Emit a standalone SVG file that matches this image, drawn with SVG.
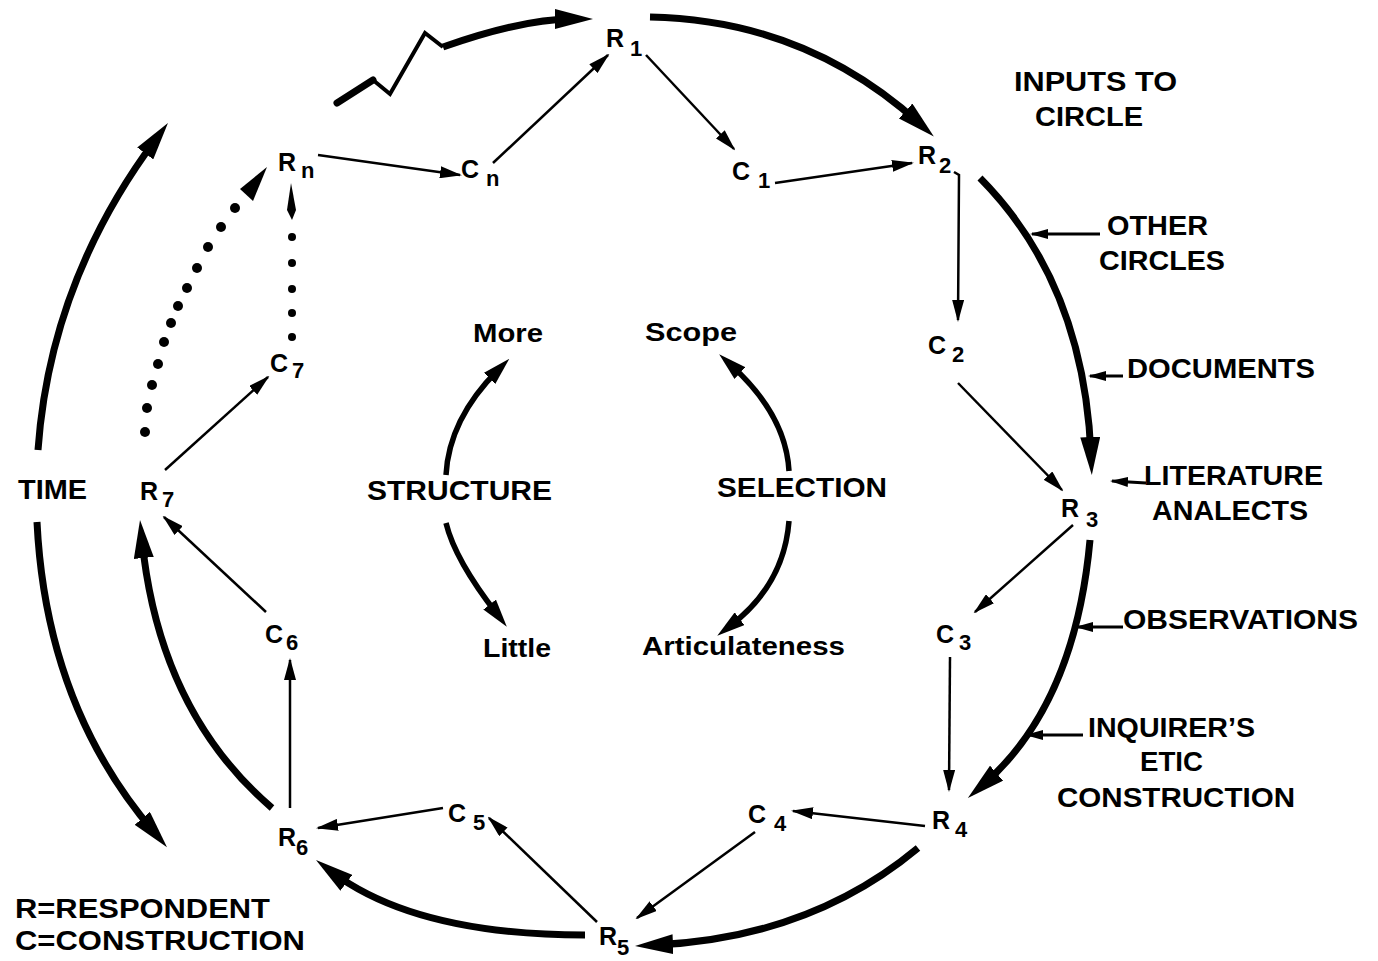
<svg xmlns="http://www.w3.org/2000/svg" width="1378" height="961" viewBox="0 0 1378 961">
<style>
text{font-family:"Liberation Sans",Arial,sans-serif;fill:#000}
.n{font-size:25px;font-weight:bold}
.s{font-size:22px;font-weight:bold}
.lb{font-size:27px;font-weight:bold}
.md{font-size:26px;font-weight:bold}
.thin{fill:none;stroke:#000;stroke-width:2.5;marker-end:url(#ah)}
.thick{fill:none;stroke:#000;stroke-width:7;marker-end:url(#ahT)}
.mid{fill:none;stroke:#000;stroke-width:5.5;marker-end:url(#ahM)}
.inp{fill:none;stroke:#000;stroke-width:3;marker-end:url(#ahI)}
.dot{fill:#000}
</style>
<defs>
<marker id="ah" markerUnits="userSpaceOnUse" markerWidth="22" markerHeight="12" refX="20" refY="6" orient="auto"><path d="M0,0 L22,6 L0,12 Z" fill="#000"/></marker>
<marker id="ahT" markerUnits="userSpaceOnUse" markerWidth="38" markerHeight="20" refX="18" refY="10" orient="auto"><path d="M0,0 L38,10 L0,20 Z" fill="#000"/></marker>
<marker id="ahM" markerUnits="userSpaceOnUse" markerWidth="28" markerHeight="16" refX="12" refY="8" orient="auto"><path d="M0,0 L28,8 L0,16 Z" fill="#000"/></marker>
<marker id="ahI" markerUnits="userSpaceOnUse" markerWidth="18" markerHeight="10" refX="16" refY="5" orient="auto"><path d="M0,0 L18,5 L0,10 Z" fill="#000"/></marker>
</defs>
<rect width="1378" height="961" fill="#fff"/>

<g id="connectors">
  <!-- outer circle -->
  <path d="M337,103 L373,80" fill="none" stroke="#000" stroke-width="7" stroke-linecap="round"/>
  <polyline points="373,80 390,94 425,33 443,47" fill="none" stroke="#000" stroke-width="4" stroke-linejoin="miter"/>
  <path class="thick" d="M443,47 Q522,19 573,19"/>
  <path class="thick" d="M650,17 Q805,20 919,123"/>
  <path class="thick" d="M980,178 Q1084,283 1091,455"/>
  <path class="thick" d="M1090,540 Q1075,705 983,785"/>
  <path class="thick" d="M918,848 Q810,938 655,945"/>
  <path class="thick" d="M585,935 Q416,935 332,872"/>
  <path class="thick" d="M272,808 Q159,711 142,540"/>
  <!-- time arcs -->
  <path class="thick" d="M38,450 Q50,281 156,139"/>
  <path class="thick" d="M37,522 Q46,706 154,832"/>
  <!-- thin inner arrows -->
  <path class="thin" d="M318,155 L460,175"/>
  <path class="thin" d="M493,163 L608,55"/>
  <path class="thin" d="M646,55 L734,149"/>
  <path class="thin" d="M775,183 L912,163"/>
  <path class="thin" d="M954,172 L959,175 L958,320"/>
  <path class="thin" d="M958,383 L1062,490"/>
  <path class="thin" d="M1073,525 L975,612"/>
  <path class="thin" d="M950,657 L949,790"/>
  <path class="thin" d="M925,826 L793,811"/>
  <path class="thin" d="M755,832 L637,918"/>
  <path class="thin" d="M597,922 L489,818"/>
  <path class="thin" d="M443,808 L318,828"/>
  <path class="thin" d="M290,808 L290,660"/>
  <path class="thin" d="M266,612 L164,517"/>
  <path class="thin" d="M165,470 L268,377"/>
  <!-- dotted arcs -->
  <g class="dot">
    <circle cx="145" cy="432" r="5"/><circle cx="147" cy="408" r="5"/><circle cx="152" cy="385" r="5"/>
    <circle cx="158" cy="364" r="5"/><circle cx="164" cy="342" r="5"/><circle cx="171" cy="323" r="5"/>
    <circle cx="178" cy="306" r="5"/><circle cx="187" cy="288" r="5"/><circle cx="197" cy="268" r="5"/>
    <circle cx="208" cy="247" r="5"/><circle cx="221" cy="227" r="5"/><circle cx="235" cy="208" r="5"/>
    <polygon points="267,167 240,189 253,201"/>
    <circle cx="292" cy="337" r="4"/><circle cx="292" cy="313" r="4"/><circle cx="292" cy="289" r="4"/>
    <circle cx="292" cy="263" r="4"/><circle cx="292" cy="237" r="4"/>
    <polygon points="291,183 296,210 292,220 287,210"/>
  </g>
  <!-- inputs -->
  <path class="inp" d="M1100,234 L1032,234"/>
  <path class="inp" d="M1123,376 L1090,376"/>
  <path class="inp" d="M1146,483 L1112,481"/>
  <path class="inp" d="M1123,627 L1077,627"/>
  <path class="inp" d="M1083,735 L1027,735"/>
  <!-- inner small circles -->
  <path class="mid" d="M446,475 Q449,419 498,370"/>
  <path class="mid" d="M446,523 Q455,560 497,614"/>
  <path class="mid" d="M789,471 Q786,415 731,365"/>
  <path class="mid" d="M789,521 Q784,585 730,626"/>
</g>

<g id="R1"><text class="n" x="606" y="47">R</text><text class="s" x="630" y="56">1</text></g>
<g id="R2"><text class="n" x="918" y="164">R</text><text class="s" x="939" y="173">2</text></g>
<g id="R3"><text class="n" x="1061" y="517">R</text><text class="s" x="1086" y="527">3</text></g>
<g id="R4"><text class="n" x="932" y="829">R</text><text class="s" x="955" y="837">4</text></g>
<g id="R5"><text class="n" x="599" y="945">R</text><text class="s" x="617" y="955">5</text></g>
<g id="R6"><text class="n" x="278" y="846">R</text><text class="s" x="296" y="855">6</text></g>
<g id="R7"><text class="n" x="140" y="500">R</text><text class="s" x="162" y="507">7</text></g>
<g id="Rn"><text class="n" x="278" y="171">R</text><text class="s" x="301" y="178">n</text></g>
<g id="C1"><text class="n" x="732" y="180">C</text><text class="s" x="758" y="188">1</text></g>
<g id="C2"><text class="n" x="928" y="354">C</text><text class="s" x="952" y="362">2</text></g>
<g id="C3"><text class="n" x="936" y="643">C</text><text class="s" x="959" y="650">3</text></g>
<g id="C4"><text class="n" x="748" y="823">C</text><text class="s" x="774" y="831">4</text></g>
<g id="C5"><text class="n" x="448" y="822">C</text><text class="s" x="473" y="830">5</text></g>
<g id="C6"><text class="n" x="265" y="643">C</text><text class="s" x="286" y="650">6</text></g>
<g id="C7"><text class="n" x="270" y="372">C</text><text class="s" x="292" y="378">7</text></g>
<g id="Cn"><text class="n" x="461" y="178">C</text><text class="s" x="486" y="186">n</text></g>

<g id="inputs">
  <text class="lb" x="1014" y="91" textLength="163" lengthAdjust="spacingAndGlyphs">INPUTS TO</text>
  <text class="lb" x="1035" y="126" textLength="108" lengthAdjust="spacingAndGlyphs">CIRCLE</text>
  <text class="lb" x="1107" y="235" textLength="101" lengthAdjust="spacingAndGlyphs">OTHER</text>
  <text class="lb" x="1099" y="270" textLength="126" lengthAdjust="spacingAndGlyphs">CIRCLES</text>
  <text class="lb" x="1127" y="378" textLength="188" lengthAdjust="spacingAndGlyphs">DOCUMENTS</text>
  <text class="lb" x="1144" y="485" textLength="179" lengthAdjust="spacingAndGlyphs">LITERATURE</text>
  <text class="lb" x="1152" y="520" textLength="156" lengthAdjust="spacingAndGlyphs">ANALECTS</text>
  <text class="lb" x="1123" y="629" textLength="235" lengthAdjust="spacingAndGlyphs">OBSERVATIONS</text>
  <text class="lb" x="1088" y="737" textLength="167" lengthAdjust="spacingAndGlyphs">INQUIRER’S</text>
  <text class="lb" x="1140" y="771" textLength="63" lengthAdjust="spacingAndGlyphs">ETIC</text>
  <text class="lb" x="1057" y="807" textLength="238" lengthAdjust="spacingAndGlyphs">CONSTRUCTION</text>
</g>
<g id="time"><text class="lb" x="18" y="499" textLength="69" lengthAdjust="spacingAndGlyphs">TIME</text></g>
<g id="structure">
  <text class="lb" x="367" y="500" textLength="185" lengthAdjust="spacingAndGlyphs">STRUCTURE</text>
  <text class="md" x="473" y="342" textLength="70" lengthAdjust="spacingAndGlyphs">More</text>
  <text class="md" x="483" y="657" textLength="68" lengthAdjust="spacingAndGlyphs">Little</text>
</g>
<g id="selection">
  <text class="lb" x="717" y="497" textLength="170" lengthAdjust="spacingAndGlyphs">SELECTION</text>
  <text class="md" x="645" y="341" textLength="92" lengthAdjust="spacingAndGlyphs">Scope</text>
  <text class="md" x="642" y="655" textLength="203" lengthAdjust="spacingAndGlyphs">Articulateness</text>
</g>
<g id="legend">
  <text class="lb" x="15" y="918" textLength="255" lengthAdjust="spacingAndGlyphs">R=RESPONDENT</text>
  <text class="lb" x="15" y="950" textLength="290" lengthAdjust="spacingAndGlyphs">C=CONSTRUCTION</text>
</g>
</svg>
